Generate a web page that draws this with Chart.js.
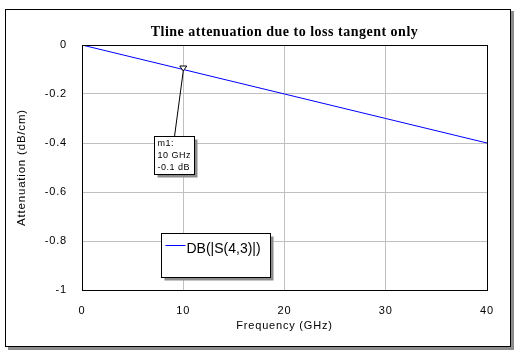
<!DOCTYPE html>
<html><head><meta charset="utf-8">
<script src="https://cdn.jsdelivr.net/npm/chart.js@4"></script>
<style>html,body{margin:0;padding:0;background:#fff;overflow:hidden}#wrap{width:520px;height:357px;position:relative}</style>
</head><body><div id="wrap"><canvas id="c" width="520" height="357"></canvas></div>
<script>
const chartTitle = 'Tline attenuation due to loss tangent only';
const xAxisTitle = 'Frequency (GHz)';
const yAxisTitle = 'Attenuation (dB/cm)';
const seriesName = 'DB(|S(4,3)|)';
const freqGHz = [0, 10, 20, 30, 40];
const attenDbPerCm = [0, -0.1, -0.2, -0.3, -0.4];
const xTickValues = [0, 10, 20, 30, 40];
const yTickValues = [0, -0.2, -0.4, -0.6, -0.8, -1];
const markerFreq = 10;
const markerValue = -0.1;
const markerLines = ['m1:', '10 GHz', '-0.1 dB'];

const SANS = '"Liberation Sans", Arial, sans-serif';
const SERIES_COLOR = '#0000ff';

const deco = {
  id: 'deco',
  beforeDraw(chart) {
    const ctx = chart.ctx;
    const a = chart.chartArea;
    ctx.save();
    ctx.fillStyle = '#fff';
    ctx.fillRect(0, 0, chart.width, chart.height);
    ctx.fillStyle = '#8c8c8c';
    ctx.fillRect(8, 347, 506, 3);
    ctx.fillRect(511, 11, 3, 339);
    ctx.strokeStyle = '#000';
    ctx.lineWidth = 1;
    ctx.strokeRect(5.5, 9.5, 505, 337);
    ctx.fillStyle = '#000';
    ctx.font = 'bold 14px "Liberation Serif", "Times New Roman", serif';
    ctx.textAlign = 'center';
    ctx.textBaseline = 'middle';
    ctx.letterSpacing = '0.5px';
    ctx.fillText(chartTitle, (a.left + a.right) / 2, 32);
    ctx.restore();
    ctx.letterSpacing = '0.8px';
  },
  afterDraw(chart) {
    const ctx = chart.ctx;
    const a = chart.chartArea;
    const xs = chart.scales.x, ys = chart.scales.y;
    ctx.save();
    ctx.strokeStyle = '#000';
    ctx.lineWidth = 1;
    const L = Math.round(a.left) + 0.5, T = Math.round(a.top) + 0.5;
    const R = Math.round(a.right) + 0.5, B = Math.round(a.bottom) + 0.5;
    ctx.strokeRect(L, T, R - L, B - T);

    // marker
    const px = xs.getPixelForValue(markerFreq);
    const py = ys.getPixelForValue(markerValue);
    const bx = Math.round(px) - 29 + 0.5, by = Math.round(py) + 66 + 0.5, bw = 40, bh = 38;
    ctx.beginPath();
    ctx.moveTo(px, py + 1.5);
    ctx.lineTo(bx + 20, by);
    ctx.stroke();
    ctx.beginPath();
    ctx.moveTo(px - 3.5, py - 3.5);
    ctx.lineTo(px + 3.5, py - 3.5);
    ctx.lineTo(px, py + 1.5);
    ctx.closePath();
    ctx.fillStyle = '#fff';
    ctx.fill();
    ctx.stroke();
    // annotation box
    ctx.fillStyle = '#8c8c8c';
    ctx.fillRect(bx + 3, by + 3, bw, bh);
    ctx.fillStyle = '#fff';
    ctx.fillRect(bx, by, bw, bh);
    ctx.strokeRect(bx, by, bw, bh);
    ctx.fillStyle = '#000';
    ctx.font = '9px ' + SANS;
    ctx.textAlign = 'left';
    ctx.textBaseline = 'middle';
    ctx.letterSpacing = '0.5px';
    markerLines.forEach((t, i) => ctx.fillText(t, bx + 3, by + 7.5 + i * 12));

    // legend
    const lx = Math.round(a.left) + 79 + 0.5, ly = Math.round(a.top) + 188 + 0.5, lw = 109, lh = 44;
    ctx.fillStyle = '#8c8c8c';
    ctx.fillRect(lx + 3, ly + 3, lw, lh);
    ctx.fillStyle = '#fff';
    ctx.fillRect(lx, ly, lw, lh);
    ctx.strokeRect(lx, ly, lw, lh);
    ctx.beginPath();
    ctx.strokeStyle = SERIES_COLOR;
    ctx.moveTo(lx + 4, ly + 12);
    ctx.lineTo(lx + 24, ly + 12);
    ctx.stroke();
    ctx.fillStyle = '#000';
    ctx.font = '14px ' + SANS;
    ctx.letterSpacing = '0px';
    ctx.fillText(chart.data.datasets[0].label, lx + 25, ly + 15.5);
    ctx.restore();
  }
};

const fmt = v => String(Number(Number(v).toFixed(2)));

new Chart(document.getElementById('c'), {
  type: 'line',
  data: {
    datasets: [{
      label: seriesName,
      data: freqGHz.map((f, i) => ({ x: f, y: attenDbPerCm[i] })),
      borderColor: SERIES_COLOR,
      borderWidth: 1,
      pointRadius: 0,
      fill: false,
      tension: 0
    }]
  },
  options: {
    responsive: false,
    animation: false,
    devicePixelRatio: 1,
    layout: { padding: { top: 45, right: 33, left: 0, bottom: 0 } },
    plugins: { legend: { display: false }, tooltip: { enabled: false }, title: { display: false } },
    scales: {
      x: {
        type: 'linear',
        min: xTickValues[0],
        max: xTickValues[xTickValues.length - 1],
        afterBuildTicks: s => { s.ticks = xTickValues.map(v => ({ value: v })); },
        afterFit: s => { s.height = 67; },
        grid: { color: '#c0c0c0', drawTicks: false },
        border: { display: false },
        ticks: { color: '#000', font: { family: SANS, size: 11 }, padding: 14, maxRotation: 0, callback: fmt },
        title: { display: true, text: xAxisTitle, color: '#000', font: { family: SANS, size: 11 }, padding: { top: 0, bottom: 24 } }
      },
      y: {
        type: 'linear',
        min: yTickValues[yTickValues.length - 1],
        max: yTickValues[0],
        afterBuildTicks: s => { s.ticks = yTickValues.slice().reverse().map(v => ({ value: v })); },
        afterFit: s => { s.width = 82; },
        grid: { color: '#c0c0c0', drawTicks: false },
        border: { display: false },
        ticks: { color: '#000', font: { family: SANS, size: 11 }, padding: 15, callback: fmt },
        title: { display: true, text: yAxisTitle, color: '#000', font: { family: SANS, size: 11.5 }, padding: { top: 15, bottom: 0 } }
      }
    }
  },
  plugins: [deco]
});
</script>
</body></html>
